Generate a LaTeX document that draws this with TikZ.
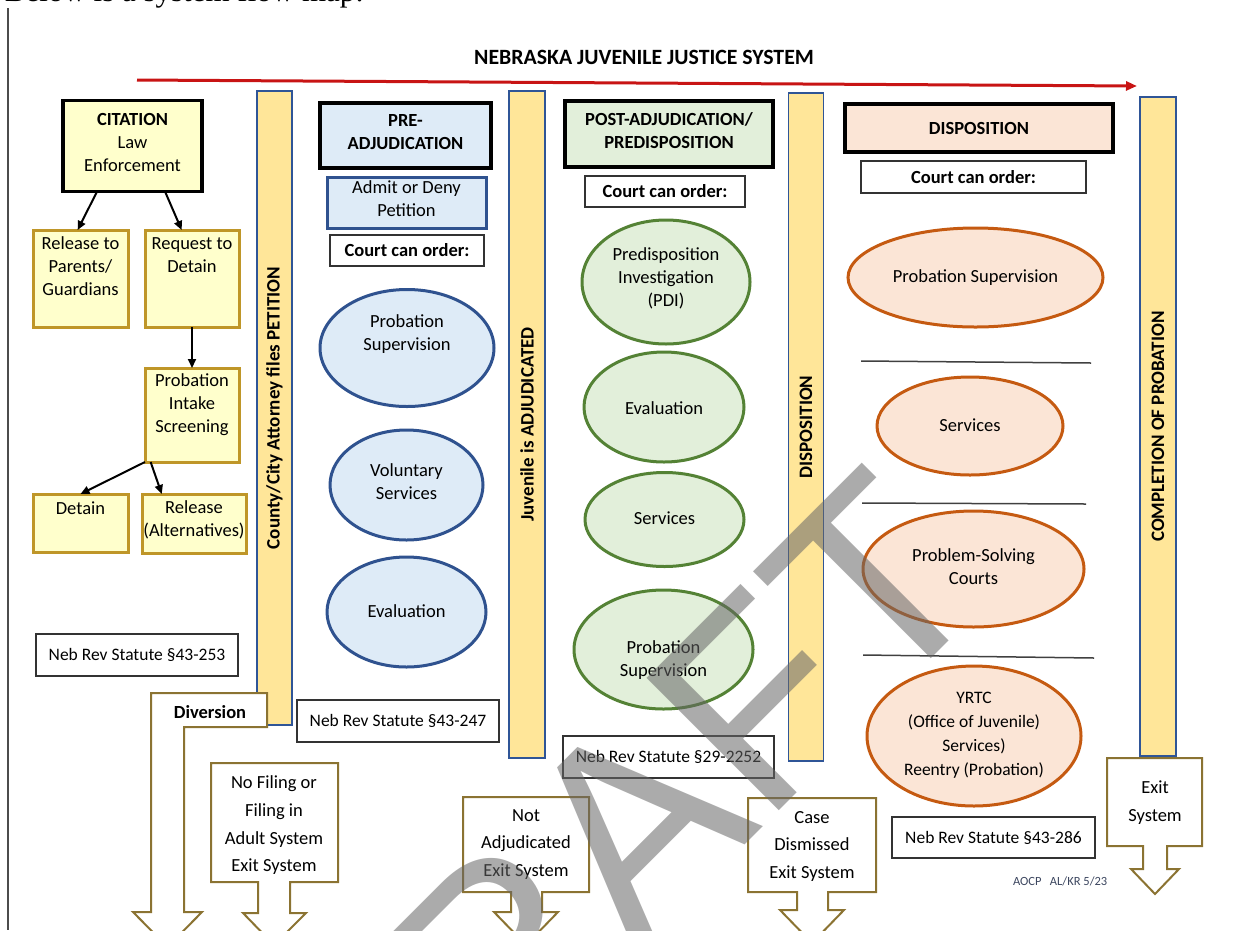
\documentclass[tikz,border=0pt]{standalone}
\usepackage{fontspec}
\setmainfont{Carlito}
\newfontfamily\serifft{Liberation Serif}
\newfontfamily\wmfont{Liberation Sans}
\usetikzlibrary{arrows.meta,shapes.geometric,calc}
\definecolor{lyel}{RGB}{255,255,204}
\definecolor{gold}{RGB}{191,150,40}
\definecolor{barfill}{RGB}{255,230,153}
\definecolor{barline}{RGB}{47,85,151}
\definecolor{bfill}{RGB}{222,235,247}
\definecolor{bline}{RGB}{47,82,143}
\definecolor{gfill}{RGB}{226,239,218}
\definecolor{gline}{RGB}{84,130,53}
\definecolor{ofill}{RGB}{251,229,214}
\definecolor{oline}{RGB}{197,90,17}
\definecolor{olive}{RGB}{139,115,50}
\definecolor{redarr}{RGB}{200,20,20}
\definecolor{aocp}{RGB}{60,70,95}
\begin{document}
\begin{tikzpicture}[x=1pt,y=-1pt,
  every node/.style={inner sep=0pt, outer sep=0pt, align=center, font=\fontsize{18.5}{23}\selectfont},
  st/.style={execute at begin node=\strut, execute at end node=\strut},
  bf/.style={font=\bfseries\fontsize{18.5}{23}\selectfont},
  hdr/.style={draw=black, line width=3.5pt, bf},
  ybox/.style={draw=gold, fill=lyel, line width=3pt},
  cbox/.style={draw=black!80, line width=1.5pt, fill=white},
  stat/.style={cbox, font=\fontsize{17.5}{22}\selectfont},
  barbox/.style={draw=barline, fill=barfill, line width=1.5pt, rotate=90, font=\bfseries\fontsize{19}{23}\selectfont},
  ell/.style={ellipse, line width=3pt},
  bell/.style={ell, draw=bline, fill=bfill},
  gell/.style={ell, draw=gline, fill=gfill},
  oell/.style={ell, draw=oline, fill=ofill},
  arr/.style={-{Triangle[length=9pt,width=8pt]}, line width=2pt},
  callout/.style={draw=olive, line width=2pt, fill=white, line join=miter},
  sepline/.style={draw=black!75, line width=1.5pt},
  wide/.style={font=\fontsize{18.5}{27.7}\selectfont}
]
\useasboundingbox (0,0) rectangle (1250,930);

% intro text (cut off) and left rule
\node[font=\serifft\fontsize{31}{36}\selectfont, anchor=base west] (intro) at (5,1) {Below is a system flow map:};
\draw[line width=1.2pt, black!70] (8,8) -- (8,930);

% title and red arrow
\node[font=\bfseries\fontsize{21.8}{26}\selectfont] (title) at (644,57) {NEBRASKA JUVENILE JUSTICE SYSTEM};
\coordinate (ra1) at (137,80);
\coordinate (ra2) at (1137,86);
\draw[redarr, line width=3pt, -{Triangle[length=11pt,width=9pt]}] (ra1) -- (ra2);

% vertical bars
\node[barbox, minimum width=634pt, minimum height=35pt] (bar1) at (274.5,408) {County/City Attorney files PETITION};
\node[barbox, minimum width=667pt, minimum height=36pt] (bar2) at (527,424.5) {Juvenile is ADJUDICATED};
\node[barbox, minimum width=668pt, minimum height=35pt] (bar3) at (806,427) {DISPOSITION};
\node[barbox, minimum width=659pt, minimum height=36pt] (bar4) at (1158,426.5) {COMPLETION OF PROBATION};

% ---- left column
\node[ybox, draw=black, line width=3.5pt, minimum width=139pt, minimum height=91pt, st] (cit) at (132.5,146) {\textbf{CITATION}\\Law\\Enforcement};
\node[ybox, minimum width=95pt, minimum height=97pt] (rel1) at (80.5,278.5) {};
\node[st] (rel1t) at (80.5,270) {Release to\\Parents/\\Guardians};
\node[ybox, minimum width=94pt, minimum height=97pt] (req) at (192,278.5) {};
\node[st] (reqt) at (192,258.5) {Request to\\Detain};
\node[ybox, minimum width=94pt, minimum height=94pt] (pis) at (192,415) {};
\node[st] (pist) at (192,407) {Probation\\Intake\\Screening};
\node[ybox, minimum width=95pt, minimum height=58pt] (det) at (80.5,523) {};
\node[st] (dett) at (80.5,510) {Detain};
\node[ybox, minimum width=104pt, minimum height=59pt] (rel2) at (194,523.5) {};
\node[st] (rel2t) at (194,522) {Release\\(Alternatives)};

\draw[arr] ($(cit.south west)!0.245!(cit.south east)$) -- ($(rel1.north west)!0.47!(rel1.north east)$);
\draw[arr] ($(cit.south west)!0.734!(cit.south east)$) -- ($(req.north west)!0.39!(req.north east)$);
\draw[arr] (req.south) -- (pis.north);
\draw[arr] (pis.south west) -- (det.north);
\draw[arr] ($(pis.south west)!0.06!(pis.south east)$) -- ($(rel2.north west)!0.19!(rel2.north east)$);

\node[stat, minimum width=202pt, minimum height=42pt] (s253) at (137,655) {Neb Rev Statute §43-253};

% ---- pre-adjudication
\node[hdr, fill=bfill, minimum width=171pt, minimum height=65pt, st] (pre) at (405.5,135.5) {PRE-\\ADJUDICATION};
\node[draw=bline, fill=bfill, line width=3pt, minimum width=159pt, minimum height=51pt, st] (admit) at (406.5,202.5) {Admit or Deny\\Petition};
\node[cbox, bf, minimum width=154pt, minimum height=31pt] (court1) at (407,250.5) {Court can order:};
\node[bell, minimum width=174pt, minimum height=117pt] (pe1) at (407,348) {};
\node[st] (pe1t) at (407,336) {Probation\\Supervision};
\node[bell, minimum width=153pt, minimum height=110pt] (pe2) at (406.5,485) {};
\node[st] (pe2t) at (406.5,485) {Voluntary\\Services};
\node[bell, minimum width=159pt, minimum height=110pt] (pe3) at (406.5,612) {};
\node[st] (pe3t) at (406.5,613) {Evaluation};
\node[stat, minimum width=202pt, minimum height=42pt] (s247) at (398,721) {Neb Rev Statute §43-247};

% ---- post-adjudication
\node[hdr, fill=gfill, minimum width=208pt, minimum height=66pt, st] (post) at (669,134) {POST-ADJUDICATION/\\PREDISPOSITION};
\node[cbox, bf, minimum width=160pt, minimum height=31pt] (court2) at (665,191.5) {Court can order:};
\node[gell, minimum width=168pt, minimum height=124pt] (ge1) at (666,282) {};
\node[st] (ge1t) at (666,281) {Predisposition\\Investigation\\(PDI)};
\node[gell, minimum width=160pt, minimum height=110pt] (ge2) at (664,407) {};
\node[st] (ge2t) at (664,410) {Evaluation};
\node[gell, minimum width=159pt, minimum height=94pt] (ge3) at (664.5,519.5) {};
\node[st] (ge3t) at (664.5,520) {Services};
\node[gell, minimum width=179pt, minimum height=119pt] (ge4) at (663.5,649.5) {};
\node[st] (ge4t) at (663.5,662) {Probation\\Supervision};
\node[stat, minimum width=211pt, minimum height=42pt] (s2252) at (668.5,757) {Neb Rev Statute §29-2252};

% ---- disposition
\node[hdr, fill=ofill, minimum width=268pt, minimum height=48pt] (disp) at (979,128) {DISPOSITION};
\node[cbox, bf, minimum width=225pt, minimum height=32pt] (court3) at (973.5,177) {Court can order:};
\node[oell, minimum width=255pt, minimum height=99pt] (oe1) at (975.5,277.5) {};
\node[st] (oe1t) at (975.5,278) {Probation Supervision};
\draw[sepline] (861,361) -- (1091,363);
\node[oell, minimum width=186pt, minimum height=98pt] (oe2) at (970,426) {};
\node[st] (oe2t) at (970,427) {Services};
\draw[sepline] (862,503) -- (1086,504);
\node[oell, minimum width=221pt, minimum height=116pt] (oe3) at (973.5,569) {};
\node[st] (oe3t) at (973.5,570) {Problem-Solving\\Courts};
\draw[sepline] (863,655) -- (1094,658);
\node[oell, minimum width=214pt, minimum height=140pt] (oe4) at (974,736) {};
\node[font=\fontsize{17.5}{24}\selectfont, st] (oe4t) at (974,737) {YRTC\\(Office of Juvenile)\\Services)\\Reentry (Probation)};
\node[stat, minimum width=203pt, minimum height=41pt] (s286) at (993.5,837.5) {Neb Rev Statute §43-286};
\node[font=\fontsize{12.5}{15}\selectfont, text=aocp, anchor=west] (aocp) at (1013,881) {AOCP\ \ \ AL/KR 5/23};

% ---- exit callouts
\draw[callout] (151,693) -- (267,693) -- (267,727) -- (184,727) -- (184,912) -- (202,912) -- (167.5,947) -- (133,912) -- (151,912) -- cycle;
\node[bf] (divt) at (210,712) {Diversion};
\draw[callout] (211,763) -- (338,763) -- (338,882) -- (290,882) -- (290,913) -- (306,913) -- (274,945) -- (243,913) -- (258,913) -- (258,882) -- (211,882) -- cycle;
\node[wide, st] (nofil) at (274,828) {No Filing or\\Filing in\\Adult System\\Exit System};
\draw[callout] (463,797) -- (589,797) -- (589,892) -- (542,892) -- (542,912) -- (558,912) -- (526,945) -- (494,912) -- (511,912) -- (511,892) -- (463,892) -- cycle;
\node[wide, st] (notadj) at (526,847) {Not\\Adjudicated\\Exit System};
\draw[callout] (748,798) -- (876,798) -- (876,892) -- (828,892) -- (828,910) -- (844,910) -- (812,943) -- (780,910) -- (797,910) -- (797,892) -- (748,892) -- cycle;
\node[wide, st] (casedis) at (812,849) {Case\\Dismissed\\Exit System};
\draw[callout] (1107,758) -- (1202,758) -- (1202,846) -- (1167,846) -- (1167,869) -- (1179,869) -- (1155,894) -- (1131,869) -- (1143,869) -- (1143,846) -- (1107,846) -- cycle;
\node[wide, st] (exits) at (1155,805) {Exit\\System};

% ---- watermark
\node[rotate=45, anchor=base east, text=black!60, text opacity=0.55, font=\wmfont\fontsize{272}{272}\selectfont] (wm) at (999,591) {DRAFT};
\end{tikzpicture}
\end{document}
